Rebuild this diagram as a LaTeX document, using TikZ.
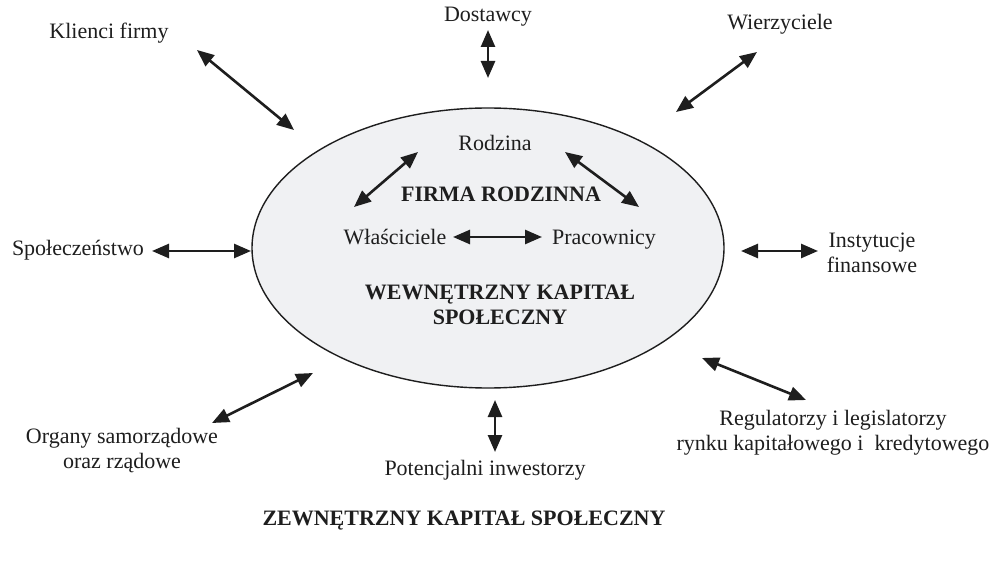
\documentclass[tikz,border=0pt]{standalone}
\usepackage{fontspec}
\setmainfont{Liberation Serif}
\usetikzlibrary{arrows.meta}
\definecolor{ellfill}{RGB}{240,241,243}
\definecolor{ink}{RGB}{30,30,30}
\begin{document}
\begin{tikzpicture}[x=1pt,y=-1pt,
  lbl/.style={inner sep=0pt,align=center,font=\fontsize{22}{25}\selectfont,text=ink},
  blbl/.style={lbl,font=\fontsize{22}{25}\selectfont\bfseries},
  dbl/.style={{Triangle[length=17pt,width=14pt]}-{Triangle[length=17pt,width=14pt]},line width=2.6pt,draw=ink}]
\useasboundingbox (0,0) rectangle (996,561);
\fill[white] (0,0) rectangle (996,561);
% main ellipse
\draw[draw=ink,line width=1.4pt,fill=ellfill] (488,248) ellipse [x radius=236,y radius=140];
\coordinate (ell) at (488,248);
% inner texts
\node[lbl] (rodz) at (495,143) {Rodzina};
\node[blbl] (firma) at (501,194) {FIRMA RODZINNA};
\node[lbl,anchor=base] (wlasc) at (395,245) {Właściciele};
\node[lbl,anchor=base] (prac) at (604,245) {Pracownicy};
\node[blbl] (wew) at (500,305) {WEWNĘTRZNY KAPITAŁ\\SPOŁECZNY};
% outer texts
\node[lbl] (klienci) at (109,33) {Klienci firmy};
\node[lbl] (dost) at (488,17) {Dostawcy};
\node[lbl] (wierz) at (780,24) {Wierzyciele};
\node[lbl] (spol) at (78,250) {Społeczeństwo};
\node[lbl] (inst) at (872,253) {Instytucje\\finansowe};
\node[lbl] (organy) at (122,451) {Organy samorządowe\\oraz rządowe};
\node[lbl] (pot) at (485,470) {Potencjalni inwestorzy};
\node[lbl] (reg) at (833,433) {Regulatorzy i legislatorzy\\rynku kapitałowego i\ \ kredytowego};
\node[blbl] (zew) at (464,521) {ZEWNĘTRZNY KAPITAŁ SPOŁECZNY};
% arrow end coordinates
\coordinate (a1) at (418,152); \coordinate (a2) at (354,207);
\coordinate (b1) at (565,152); \coordinate (b2) at (639,207);
\coordinate (c1) at (453,237); \coordinate (c2) at (542,237);
\coordinate (k1) at (197,50);  \coordinate (k2) at (294,130);
\coordinate (d1) at (488,30);  \coordinate (d2) at (488,78);
\coordinate (w1) at (757,52);  \coordinate (w2) at (676,112);
\coordinate (s1) at (152,251); \coordinate (s2) at (251,251);
\coordinate (i1) at (741,251); \coordinate (i2) at (818,251);
\coordinate (o1) at (212,423); \coordinate (o2) at (313,373);
\coordinate (p1) at (495,400); \coordinate (p2) at (495,452);
\coordinate (r1) at (702,358); \coordinate (r2) at (806,400);
% arrows
\draw[dbl] (a1) -- (a2);
\draw[dbl] (b1) -- (b2);
\draw[dbl] (c1) -- (c2);
\draw[dbl] (k1) -- (k2);
\draw[dbl] (d1) -- (d2);
\draw[dbl] (w1) -- (w2);
\draw[dbl] (s1) -- (s2);
\draw[dbl] (i1) -- (i2);
\draw[dbl] (o1) -- (o2);
\draw[dbl] (p1) -- (p2);
\draw[dbl] (r1) -- (r2);
\end{tikzpicture}
\end{document}
